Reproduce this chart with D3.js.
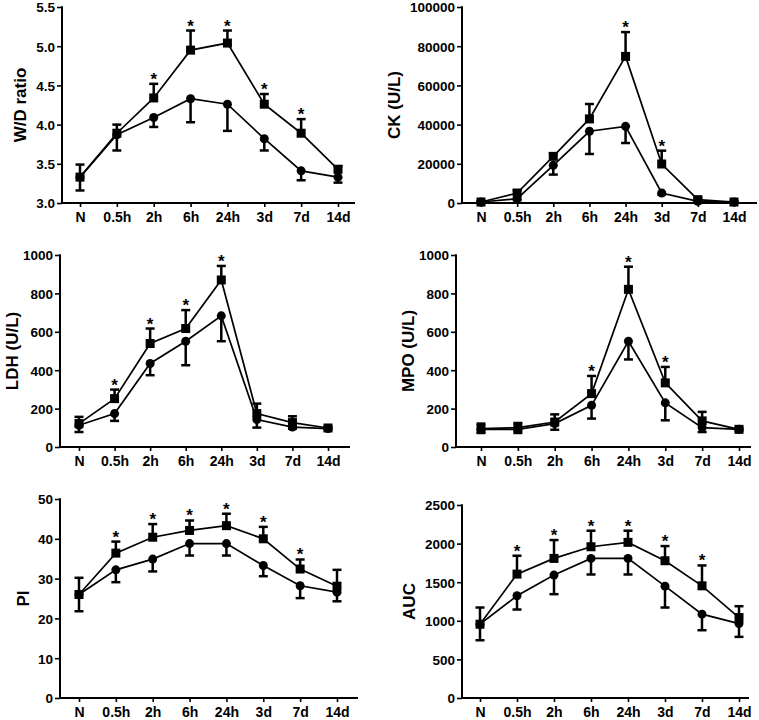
<!DOCTYPE html>
<html><head><meta charset="utf-8">
<script src="https://cdn.jsdelivr.net/npm/d3@7"></script>
<style>
html,body{margin:0;padding:0;background:#fff;}
svg text{font-family:"Liberation Sans",Arial,sans-serif;font-weight:bold;fill:#000;}
</style></head>
<body><svg id="c" width="759" height="720"></svg>
<script>
const categories = ["N","0.5h","2h","6h","24h","3d","7d","14d"];

// W/D ratio
const wdSquare = [3.33,3.89,4.34,4.95,5.04,4.26,3.89,3.43];
const wdSquareErr = [0.16,0.11,0.18,0.25,0.16,0.13,0.18,0.04];
const wdCircle = [3.33,3.87,4.09,4.33,4.26,3.82,3.41,3.33];
const wdCircleErr = [0.17,0.20,0.12,0.30,0.34,0.15,0.12,0.07];
const wdStars = ["2h","6h","24h","3d","7d"];
const wdTicks = [3.0,3.5,4.0,4.5,5.0,5.5];

// CK
const ckSquare = [500,5100,23800,42900,74800,19900,1700,500];
const ckSquareErr = [300,1400,1500,7600,12400,6800,800,300];
const ckCircle = [500,2200,19200,36600,39100,5100,850,500];
const ckCircleErr = [300,800,4700,11600,8500,800,400,300];
const ckStars = ["24h","3d"];
const ckTicks = [0,20000,40000,60000,80000,100000];

// LDH
const ldhSquare = [122,252,539,617,870,174,127,99];
const ldhSquareErr = [35,47,78,96,73,52,33,6];
const ldhCircle = [113,174,435,551,683,143,104,96];
const ldhCircleErr = [35,38,61,125,132,42,9,6];
const ldhStars = ["0.5h","2h","6h","24h"];
const ldhTicks = [0,200,400,600,800,1000];

// MPO
const mpoSquare = [96,101,130,278,821,334,136,92];
const mpoSquareErr = [26,24,40,92,118,83,47,8];
const mpoCircle = [92,92,122,217,551,230,101,92];
const mpoCircleErr = [19,19,32,69,95,91,23,6];
const mpoStars = ["6h","24h","3d"];
const mpoTicks = [0,200,400,600,800,1000];

// PI
const piSquare = [26.0,36.4,40.4,42.1,43.3,40.0,32.4,28.1];
const piSquareErr = [4.2,2.9,3.3,2.5,3.0,3.0,2.4,4.1];
const piCircle = [26.0,32.2,34.9,38.8,38.8,33.3,28.2,26.6];
const piCircleErr = [4.2,3.1,3.1,3.0,3.0,2.7,3.1,2.3];
const piStars = ["0.5h","2h","6h","24h","3d","7d"];
const piTicks = [0,10,20,30,40,50];

// AUC
const aucSquare = [956,1605,1808,1959,2016,1778,1453,1042];
const aucSquareErr = [216,238,238,208,151,190,264,147];
const aucCircle = [956,1324,1592,1808,1808,1449,1086,964];
const aucCircleErr = [208,178,247,208,208,277,208,172];
const aucStars = ["0.5h","2h","6h","24h","3d","7d"];
const aucTicks = [0,500,1000,1500,2000,2500];

const panels = [
  {title:"W/D ratio", sq:wdSquare, sqE:wdSquareErr, ci:wdCircle, ciE:wdCircleErr, stars:wdStars, ticks:wdTicks, fmt:d3.format(".1f"),
   ax:62, top:7, bot:203, x0:80, x1:338, xEnd:355, tx:20},
  {title:"CK (U/L)", sq:ckSquare, sqE:ckSquareErr, ci:ckCircle, ciE:ckCircleErr, stars:ckStars, ticks:ckTicks, fmt:d3.format("d"),
   ax:462, top:7, bot:203, x0:481, x1:734, xEnd:757, tx:394},
  {title:"LDH (U/L)", sq:ldhSquare, sqE:ldhSquareErr, ci:ldhCircle, ciE:ldhCircleErr, stars:ldhStars, ticks:ldhTicks, fmt:d3.format("d"),
   ax:60, top:255, bot:447, x0:79, x1:328, xEnd:350, tx:12},
  {title:"MPO (U/L)", sq:mpoSquare, sqE:mpoSquareErr, ci:mpoCircle, ciE:mpoCircleErr, stars:mpoStars, ticks:mpoTicks, fmt:d3.format("d"),
   ax:456, top:255, bot:447, x0:481, x1:739, xEnd:751, tx:408},
  {title:"PI", sq:piSquare, sqE:piSquareErr, ci:piCircle, ciE:piCircleErr, stars:piStars, ticks:piTicks, fmt:d3.format("d"),
   ax:60, top:499, bot:698, x0:79, x1:337, xEnd:358, tx:23},
  {title:"AUC", sq:aucSquare, sqE:aucSquareErr, ci:aucCircle, ciE:aucCircleErr, stars:aucStars, ticks:aucTicks, fmt:d3.format("d"),
   ax:462, top:505, bot:698, x0:480, x1:739, xEnd:749, tx:409}
];

const svg = d3.select("#c");

panels.forEach(p => {
  const g = svg.append("g");
  const x = d3.scalePoint().domain(categories).range([p.x0, p.x1]);
  const y = d3.scaleLinear().domain([p.ticks[0], p.ticks[p.ticks.length-1]]).range([p.bot, p.top]);

  // y axis
  const ya = g.append("g").attr("transform",`translate(${p.ax},0)`)
    .call(d3.axisLeft(y).tickValues(p.ticks).tickFormat(p.fmt).tickSize(5).tickPadding(2));
  ya.select(".domain").remove();
  ya.selectAll(".tick line").attr("stroke","#000").attr("stroke-width",1.6);
  ya.selectAll(".tick text").style("font-size","13.5px").attr("dy","0.36em");
  g.append("line").attr("x1",p.ax).attr("x2",p.ax).attr("y1",y.range()[1]-0.8).attr("y2",p.bot+0.8)
    .attr("stroke","#000").attr("stroke-width",2);

  // x axis
  const xa = g.append("g").attr("transform",`translate(0,${p.bot})`)
    .call(d3.axisBottom(x).tickSize(4).tickPadding(5));
  xa.select(".domain").remove();
  xa.selectAll(".tick line").attr("stroke","#000").attr("stroke-width",1.6);
  xa.selectAll(".tick text").style("font-size","14px");
  g.append("line").attr("x1",p.ax).attr("x2",p.xEnd).attr("y1",p.bot).attr("y2",p.bot)
    .attr("stroke","#000").attr("stroke-width",2);

  // y title
  g.append("text").attr("transform",`translate(${p.tx},${(p.top+p.bot)/2}) rotate(-90)`)
    .attr("text-anchor","middle").attr("dy","0.36em").style("font-size","17px").text(p.title);

  const capW = 4.5;
  // error bars: squares up, circles down
  categories.forEach((c,i) => {
    const cx = x(c);
    const yU = y(p.sq[i] + p.sqE[i]);
    g.append("line").attr("x1",cx).attr("x2",cx).attr("y1",y(p.sq[i])).attr("y2",yU).attr("stroke","#000").attr("stroke-width",2.5);
    g.append("line").attr("x1",cx-capW).attr("x2",cx+capW).attr("y1",yU).attr("y2",yU).attr("stroke","#000").attr("stroke-width",2.5);
    const yL = y(p.ci[i] - p.ciE[i]);
    g.append("line").attr("x1",cx).attr("x2",cx).attr("y1",y(p.ci[i])).attr("y2",yL).attr("stroke","#000").attr("stroke-width",2.5);
    g.append("line").attr("x1",cx-capW).attr("x2",cx+capW).attr("y1",yL).attr("y2",yL).attr("stroke","#000").attr("stroke-width",2.5);
  });

  const line = d3.line().x((d,i)=>x(categories[i])).y(d=>y(d));
  g.append("path").datum(p.ci).attr("d",line).attr("fill","none").attr("stroke","#000").attr("stroke-width",1.7);
  g.append("path").datum(p.sq).attr("d",line).attr("fill","none").attr("stroke","#000").attr("stroke-width",1.7);

  g.selectAll("circle.m").data(p.ci).join("circle").attr("class","m")
    .attr("cx",(d,i)=>x(categories[i])).attr("cy",d=>y(d)).attr("r",4.5).attr("fill","#000");
  const s = 9;
  g.selectAll("rect.m").data(p.sq).join("rect").attr("class","m")
    .attr("x",(d,i)=>x(categories[i])-s/2).attr("y",d=>y(d)-s/2).attr("width",s).attr("height",s).attr("fill","#000");

  // asterisks
  p.stars.forEach(c => {
    const i = categories.indexOf(c);
    g.append("text").attr("x",x(c)).attr("y",y(p.sq[i]+p.sqE[i]) + 1)
      .attr("text-anchor","middle").style("font-size","17px").text("*");
  });
});
</script></body></html>
